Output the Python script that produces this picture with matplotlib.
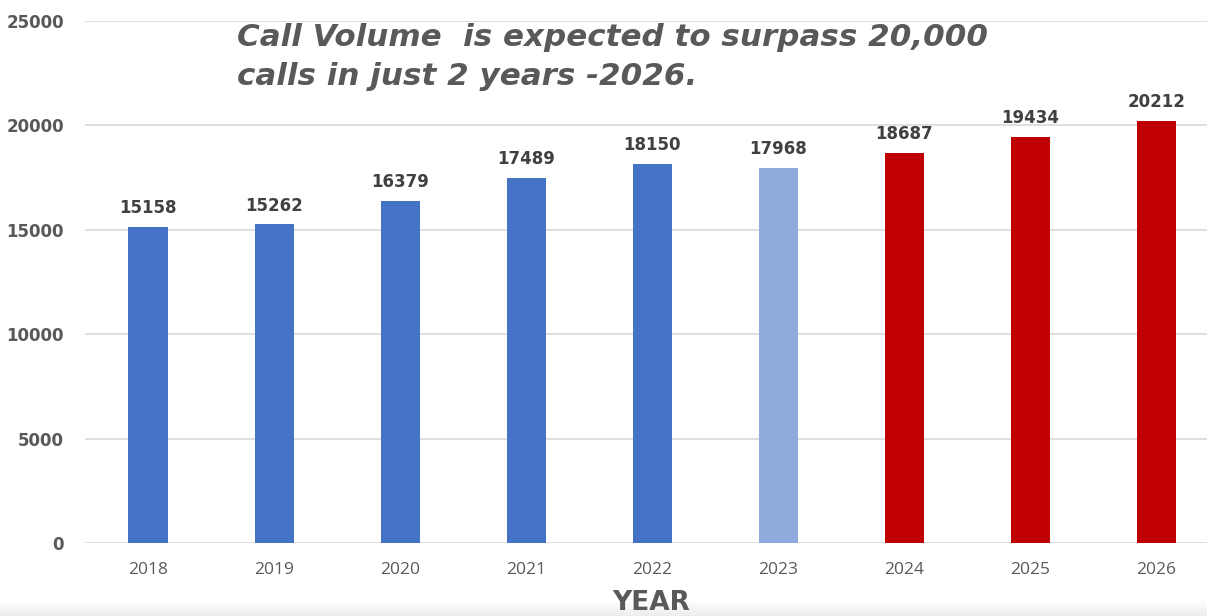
import matplotlib
matplotlib.use("Agg")
import matplotlib.pyplot as plt
import numpy as np

years = ["2018", "2019", "2020", "2021", "2022", "2023", "2024", "2025", "2026"]
calls = [15158, 15262, 16379, 17489, 18150, 17968, 18687, 19434, 20212]
bar_colors = ["#4472C4"] * 5 + ["#8FAADC"] + ["#C00000"] * 3
y_ticks = [0, 5000, 10000, 15000, 20000, 25000]
title_text = "Call Volume  is expected to surpass 20,000\ncalls in just 2 years -2026."
x_label = "YEAR"

fig = plt.figure(figsize=(12.07, 6.16), dpi=100)
# subtle shading band at the bottom edge
bg = fig.add_axes([0, 0, 1, 16 / 616], zorder=0)
grad = np.linspace(0.93, 1.0, 16).reshape(-1, 1)
bg.imshow(np.dstack([grad, grad, grad]), aspect="auto", origin="lower",
          extent=[0, 1, 0, 1])
bg.axis("off")

ax = fig.add_axes([85 / 1207, 1 - 543 / 616, 1 - 85 / 1207, (543 - 21) / 616], zorder=1)
ax.patch.set_alpha(0)

x = list(range(len(years)))
ax.bar(x, calls, width=0.31, color=bar_colors, zorder=3)
for xi, v in zip(x, calls):
    ax.annotate(str(v), (xi, v), xytext=(0, 7), textcoords="offset points",
                ha="center", va="bottom", fontsize=12, fontweight="bold",
                color="#404040", family="DejaVu Sans")

ax.set_xlim(-0.5, 8.4)
ax.set_ylim(0, 25000)
ax.set_yticks(y_ticks)
ax.set_yticklabels([str(t) for t in y_ticks], fontsize=12, fontweight="bold",
                   color="#595959", family="DejaVu Sans")
ax.set_xticks(x)
ax.set_xticklabels(years, fontsize=12.5, color="#595959", family="Open Sans")
ax.tick_params(axis="y", length=0, pad=15)
ax.tick_params(axis="x", length=0, pad=14)
ax.yaxis.grid(True, color="#d9d9d9", linewidth=1.2, zorder=0)
for s in ax.spines.values():
    s.set_visible(False)

fig.text(237 / 1207, 1 - 23 / 616, title_text, ha="left", va="top",
         fontsize=22.3, fontweight="bold", fontstyle="oblique", color="#595959",
         family="DejaVu Sans", linespacing=1.42, zorder=5)

fig.text(651 / 1207, 1 - 603 / 616, x_label, ha="center", va="center",
         fontsize=19, fontweight="heavy", color="#595959", family="DejaVu Sans",
         zorder=5)

fig.savefig("out.png", dpi=100)
